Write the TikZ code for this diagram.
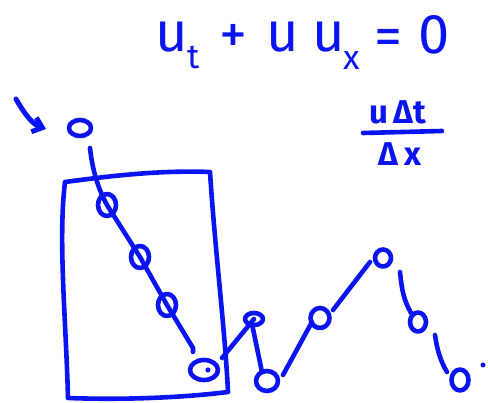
\documentclass[tikz,border=0pt]{standalone}
\usepackage{fontspec}
\setmainfont{Fira Sans}
\usetikzlibrary{arrows.meta,shapes.geometric}
\definecolor{pen}{RGB}{10,20,240}
\tikzset{
  ink/.style={draw=pen,line width=4.6pt,line cap=round,line join=round},
  loopc/.style={ink,ellipse,minimum width=#1,minimum height=#1,inner sep=0pt},
  big/.style={text=pen,inner sep=0pt,font=\fontsize{56}{60}\selectfont},
  sub/.style={text=pen,inner sep=0pt,font=\fontsize{34}{40}\selectfont},
  mid/.style={text=pen,inner sep=0pt,font=\bfseries\fontsize{33}{38}\selectfont}
}
\begin{document}
\begin{tikzpicture}[x=1pt,y=-1pt]
\useasboundingbox (0,0) rectangle (488,403);
% equation
\node[big] (u1) at (172,37) {u};
\node[sub] (t1) at (194,58) {t};
\node[big] (plus) at (233,39) {+};
\node[big] (u2) at (283,37) {u};
\node[big] (u3) at (329,37) {u};
\node[sub] (x1) at (352,61) {x};
\node[big] (eqs) at (388,42) {=};
\node[big] (zero) at (434,35) {0};
% fraction
\node[mid] (num) at (398,112) {u\,Δt};
\node[mid] (den) at (400,154) {Δ\,x};
\draw[ink] (363,133) -- (442,131);
% arrow
\draw[ink,line width=5pt,-{Straight Barb[length=9pt,width=15pt]}] (16,99) .. controls (24,113) and (32,124) .. (46,129);
% top point
\node[loopc=16pt,minimum width=22pt] (p0) at (80,128) {};
% box
\draw[ink] (65,182) .. controls (110,176) and (160,170) .. (210,172)
  .. controls (215,250) and (225,330) .. (228,392)
  .. controls (180,398) and (120,400) .. (68,398)
  .. controls (66,320) and (58,240) .. (65,182);
% slanted chain
\coordinate (s0) at (90,148);
\node[loopc=22pt,minimum width=18pt] (c1) at (107,205) {};
\node[loopc=22pt,minimum width=18pt] (c2) at (140,257) {};
\node[loopc=22pt,minimum width=18pt] (c3) at (167,305) {};
\coordinate (s4) at (193,348);
\node[loopc=20pt,minimum width=28pt] (c4) at (204,370) {};
\fill[pen] (208,370) circle (2.6pt);
\draw[ink] (s0) .. controls (93,175) and (100,192) .. (c1.center)
  -- (c2.center) -- (c3.center) -- (s4) -- ++(0,4);
% zigzag
\coordinate (z0) at (222,358);
\node[loopc=12pt,minimum width=18pt] (c5) at (254,319) {};
\node[loopc=20pt,minimum width=22pt] (c6) at (267,381) {};
\node[loopc=20pt,minimum width=19pt] (c7) at (320,318) {};
\node[loopc=17pt,minimum width=16pt] (c8) at (383,258) {};
\node[loopc=19pt,minimum width=16pt] (c9) at (418,322) {};
\node[loopc=21pt,minimum width=17pt] (c10) at (460,380) {};
\draw[ink] (z0) -- (c5.center);
\draw[ink] (252,324) -- (262,372);
\draw[ink] (283,375) -- (312,322);
\draw[ink] (333,310) -- (370,262);
\draw[ink] (400,272) .. controls (402,292) and (404,300) .. (411,313);
\draw[ink] (435,335) .. controls (437,350) and (441,362) .. (447,372);
\fill[pen] (483,365) circle (2.5pt);
\end{tikzpicture}
\end{document}
